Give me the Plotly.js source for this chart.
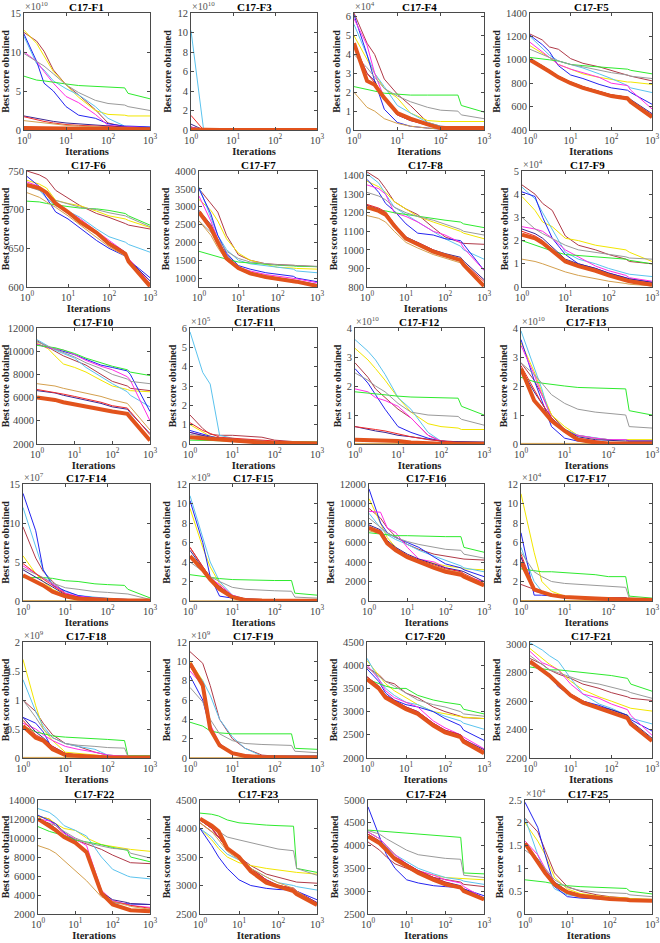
<!DOCTYPE html>
<html><head><meta charset="utf-8">
<script src="https://cdn.plot.ly/plotly-3.0.1.min.js"></script>
<style>html,body{margin:0;padding:0;background:#fff}#chart{width:660px;height:943px}</style>
</head><body><div id="chart"></div>
<script>
// Shared iteration samples (log x axis)
const ITER = [1,2,3,5,10,20,50,100,250,300,1000];
// Series order in every panel
const SERIES = ['brown','yellow','cyan','blue','magenta','green','gray','navy','red','tan','proposed'];
const COLORS = ['#B03A48','#F2E600','#5BC3EE','#2424F0','#FF2EE6','#2EEA2E','#9A9A9A','#3B2690','#F02A2A','#D4A04E','#E2531C'];
const WIDTHS = [1,1,1,1,1,1,1,1,1,1,4];

const TITLES = ['C17-F1','C17-F3','C17-F4','C17-F5','C17-F6','C17-F7','C17-F8','C17-F9','C17-F10','C17-F11','C17-F12','C17-F13',
  'C17-F14','C17-F15','C17-F16','C17-F17','C17-F18','C17-F19','C17-F20','C17-F21','C17-F22','C17-F23','C17-F24','C17-F25'];
const Y_MIN  = [0,0,0,400, 600,750,800,0, 2000,0,0,0, 0,0,0,0, 0,0,2000,2200, 2000,2500,2500,0];
const Y_MAX  = [15,12,6.2,1400, 750,4000,1425,5, 12000,6,4,4, 15,12,12000,12, 2,12,4500,3016, 14000,4500,5000,2.5];
const Y_STEP = [5,2,1,200, 50,500,100,1, 2000,1,1,1, 5,2,2000,2, 0.5,2,500,200, 2000,500,500,0.5];
const Y_EXP  = [10,10,4,0, 0,0,0,4, 0,5,10,10, 7,9,0,4, 9,9,0,0, 0,0,0,4];
const X_TICKS = [1,10,100,1000];
const X_TICKTEXT = ['10<sup>0</sup>','10<sup>1</sup>','10<sup>2</sup>','10<sup>3</sup>'];

// values per panel: [brown, yellow, cyan, blue, magenta, green, gray, navy, red, tan, proposed]
const F1 = [
 [12.5,11.4,10.1,7.7,5.8,4.5,2.6,0.9,0.4,0.4,0.3],
 [12.8,11.1,9.5,7.5,5.8,4.2,2.5,2.0,1.9,1.8,1.8],
 [12.0,8.5,7.7,6.3,5.3,4.5,3.0,1.5,0.5,0.4,0.3],
 [12.3,8.8,6.0,5.0,3.0,1.9,1.5,0.8,0.5,0.5,0.4],
 [10.0,8.8,7.5,6.0,4.3,3.5,2.0,0.6,0.4,0.4,0.3],
 [6.9,6.4,6.3,6.1,5.9,5.7,5.6,5.5,5.4,4.7,4.0],
 [9.8,8.8,8.2,7.2,5.8,4.8,3.8,3.4,3.2,3.0,2.5],
 [1.8,1.5,1.3,1.1,0.9,0.8,0.6,0.5,0.4,0.35,0.3],
 [1.7,1.3,1.1,0.9,0.7,0.6,0.5,0.4,0.3,0.3,0.2],
 [1.2,1.0,0.9,0.75,0.6,0.5,0.4,0.3,0.25,0.25,0.2],
 [0.25,0.22,0.2,0.2,0.18,0.15,0.12,0.1,0.1,0.1,0.1]];
const F3 = [
 [0.3,0,0,0,0,0,0,0,0,0,0],
 [0.2,0,0,0,0,0,0,0,0,0,0],
 [10.2,0,0,0,0,0,0,0,0,0,0],
 [0.3,0,0,0,0,0,0,0,0,0,0],
 [0.3,0,0,0,0,0,0,0,0,0,0],
 [0.1,0,0,0,0,0,0,0,0,0,0],
 [0.2,0,0,0,0,0,0,0,0,0,0],
 [0.6,0,0,0,0,0,0,0,0,0,0],
 [1.5,0,0,0,0,0,0,0,0,0,0],
 [0.05,0,0,0,0,0,0,0,0,0,0],
 [0.05,0,0,0,0,0,0,0,0,0,0]];
const F4 = [
 [6.2,4.6,4.0,2.7,1.9,1.3,0.4,0.2,0.15,0.15,0.15],
 [5.0,3.7,3.0,2.2,1.7,0.9,0.5,0.45,0.45,0.45,0.45],
 [5.6,4.0,3.0,2.3,1.3,0.9,0.4,0.2,0.1,0.1,0.1],
 [6.1,4.0,2.6,1.1,0.4,0.2,0.1,0.05,0.05,0.05,0.05],
 [5.9,4.5,3.0,1.7,0.8,0.6,0.3,0.15,0.1,0.1,0.1],
 [2.3,2.15,2.05,1.95,1.9,1.85,1.85,1.85,1.85,1.3,0.95],
 [4.0,3.3,2.8,2.2,1.8,1.5,1.2,1.05,1.0,0.8,0.6],
 [4.5,3.0,2.6,1.6,0.8,0.5,0.3,0.15,0.1,0.1,0.1],
 [4.6,3.0,2.5,1.7,0.8,0.5,0.25,0.1,0.1,0.1,0.1],
 [2.0,1.2,1.0,0.6,0.35,0.2,0.1,0.05,0.05,0.05,0.05],
 [4.6,2.6,2.4,1.7,0.9,0.6,0.3,0.1,0.1,0.1,0.1]];
const F5 = [
 [1220,1170,1110,1090,1010,970,940,910,870,860,820],
 [1120,1060,1020,960,920,880,850,830,810,810,790],
 [1200,1100,1040,990,960,930,880,840,780,760,720],
 [1210,1130,1070,950,870,840,790,760,740,720,620],
 [1150,1070,1020,960,920,890,850,800,780,740,580],
 [1020,1010,1000,990,960,950,940,930,920,910,880],
 [1090,1050,1020,990,960,940,910,890,870,860,840],
 [1000,950,910,860,810,770,730,700,680,660,540],
 [1000,950,910,860,810,770,730,700,680,650,530],
 [990,940,900,850,800,760,720,690,670,640,510],
 [1000,940,900,850,800,760,720,690,670,640,510]];
const F6 = [
 [750,745,740,725,715,705,695,690,682,680,675],
 [738,733,728,712,708,705,698,692,688,686,677],
 [733,725,715,705,698,690,675,665,658,655,645],
 [743,730,715,697,688,676,660,650,640,635,612],
 [736,730,720,708,698,688,672,660,645,637,605],
 [711,710,708,706,704,702,701,699,695,692,680],
 [730,725,722,712,707,703,700,696,692,690,678],
 [733,728,722,710,695,685,670,658,645,635,608],
 [733,728,722,708,695,683,670,655,642,632,603],
 [722,716,710,703,692,680,665,652,640,630,605],
 [732,728,722,708,697,684,670,656,643,633,601]];
const F7 = [
 [3500,3100,2850,2200,1650,1500,1400,1380,1360,1350,1320],
 [3200,2900,2600,2100,1700,1500,1380,1300,1280,1270,1250],
 [3550,2700,2200,1800,1500,1400,1350,1300,1250,1200,1150],
 [3500,2800,2200,1700,1350,1250,1150,1100,1050,1000,900],
 [3300,2600,2100,1600,1300,1200,1100,1050,1000,980,870],
 [1750,1650,1600,1530,1450,1420,1380,1360,1340,1330,1320],
 [2600,2300,2100,1750,1550,1450,1400,1370,1360,1350,1330],
 [2900,2500,2050,1650,1300,1150,1050,1000,950,930,820],
 [2800,2400,2000,1600,1300,1150,1050,1000,950,920,800],
 [2600,2200,1850,1500,1250,1100,1000,950,900,880,770],
 [2850,2400,2000,1550,1280,1130,1030,980,930,900,780]];
const F8 = [
 [1420,1380,1330,1260,1220,1190,1120,1070,1040,1035,1030],
 [1370,1340,1310,1260,1220,1180,1150,1130,1100,1090,1060],
 [1410,1360,1300,1230,1190,1150,1100,1060,1020,1000,950],
 [1380,1310,1250,1210,1140,1090,1080,1060,1050,1030,890],
 [1350,1330,1300,1200,1180,1150,1100,1080,1040,1010,890],
 [1220,1215,1210,1200,1190,1180,1170,1160,1150,1140,1120],
 [1310,1290,1270,1230,1200,1180,1160,1140,1110,1100,1080],
 [1240,1220,1200,1140,1070,1040,1000,980,960,940,840],
 [1245,1225,1205,1140,1065,1040,1000,975,950,930,830],
 [1185,1170,1150,1100,1040,1010,975,955,930,910,810],
 [1230,1210,1190,1130,1060,1030,990,970,945,920,805]];
const F9 = [
 [4.4,4.0,3.6,3.3,2.2,1.8,1.6,1.4,1.2,1.1,1.0],
 [3.9,3.3,2.8,2.6,2.1,2.0,1.8,1.7,1.6,1.5,1.1],
 [4.3,3.8,3.2,2.5,1.5,1.2,1.0,0.8,0.6,0.55,0.45],
 [4.1,3.9,3.0,2.1,1.4,1.0,0.8,0.6,0.4,0.35,0.2],
 [2.6,2.5,2.4,2.1,1.6,1.3,0.9,0.7,0.5,0.4,0.25],
 [2.0,1.8,1.7,1.55,1.4,1.35,1.3,1.25,1.2,1.15,1.0],
 [3.0,2.5,2.3,2.1,1.8,1.6,1.5,1.4,1.3,1.25,1.2],
 [2.5,2.3,2.1,1.7,1.2,1.0,0.8,0.6,0.4,0.35,0.2],
 [2.4,2.2,2.0,1.6,1.15,0.95,0.75,0.55,0.35,0.3,0.15],
 [1.2,1.1,1.0,0.85,0.65,0.5,0.35,0.25,0.15,0.12,0.05],
 [2.25,2.1,1.9,1.55,1.1,0.9,0.7,0.5,0.3,0.25,0.1]];
const F10 = [
 [10900,10300,10000,9600,9200,8800,8000,7400,7000,6800,6600],
 [10700,10200,9600,8900,8600,8200,7500,7000,6700,6600,6500],
 [11000,10400,10100,9800,9400,8600,7800,7200,6500,6200,5200],
 [10600,10300,10200,10000,9700,9300,8800,8600,8300,8000,4800],
 [10600,10300,10200,10100,9700,9200,8700,8400,7800,7500,4000],
 [10500,10400,10300,10100,9800,9400,9000,8700,8400,8200,7900],
 [10800,10400,10200,9900,9500,9000,8500,8000,7600,7400,7200],
 [6600,6500,6400,6200,6000,5800,5500,5200,5000,4700,2900],
 [6700,6550,6450,6300,6100,5900,5600,5300,5100,4800,2800],
 [7200,7100,7000,6800,6600,6400,6100,5800,5500,5200,3200],
 [6000,5900,5800,5600,5400,5200,5000,4800,4600,4300,2300]];
const F11 = [
 [1.5,0.8,0.5,0.45,0.45,0.4,0.35,0.2,0.15,0.12,0.1],
 [1.0,0.6,0.4,0.3,0.25,0.2,0.15,0.1,0.1,0.1,0.08],
 [5.8,3.7,3.1,0.45,0.3,0.2,0.15,0.1,0.05,0.05,0.05],
 [0.7,0.5,0.4,0.3,0.25,0.2,0.15,0.1,0.08,0.08,0.05],
 [0.6,0.45,0.35,0.3,0.2,0.15,0.12,0.1,0.08,0.08,0.05],
 [0.2,0.2,0.18,0.17,0.16,0.15,0.14,0.13,0.12,0.12,0.1],
 [0.5,0.4,0.35,0.3,0.25,0.2,0.15,0.12,0.1,0.1,0.08],
 [0.6,0.45,0.35,0.3,0.2,0.15,0.1,0.08,0.05,0.05,0.03],
 [1.1,0.7,0.55,0.35,0.3,0.25,0.2,0.15,0.1,0.1,0.08],
 [0.3,0.25,0.2,0.15,0.1,0.08,0.05,0.04,0.03,0.03,0.02],
 [0.35,0.3,0.25,0.2,0.15,0.1,0.07,0.05,0.04,0.03,0.02]];
const F12 = [
 [2.8,2.3,1.9,1.6,1.2,0.9,0.3,0.1,0.08,0.08,0.05],
 [3.3,2.9,2.6,2.2,1.6,1.1,0.7,0.6,0.55,0.5,0.5],
 [3.6,3.2,2.9,2.4,1.6,1.2,0.4,0.1,0.05,0.05,0.05],
 [2.6,2.1,1.7,1.2,0.6,0.4,0.2,0.1,0.05,0.05,0.05],
 [1.9,1.8,1.6,1.5,1.3,0.9,0.3,0.1,0.05,0.05,0.05],
 [1.8,1.75,1.72,1.7,1.65,1.62,1.6,1.6,1.58,1.3,1.0],
 [2.45,2.2,2.0,1.8,1.4,1.1,1.0,0.97,0.95,0.85,0.65],
 [0.6,0.5,0.45,0.4,0.3,0.25,0.15,0.1,0.08,0.08,0.07],
 [0.6,0.55,0.5,0.45,0.35,0.25,0.15,0.1,0.05,0.05,0.05],
 [0.02,0.02,0.02,0.02,0.02,0.02,0.02,0.02,0.02,0.02,0.02],
 [0.15,0.14,0.13,0.12,0.1,0.05,0.02,0.01,0.01,0.01,0.01]];
const F13 = [
 [2.8,2.2,1.7,1.0,0.5,0.3,0.2,0.15,0.15,0.1,0.1],
 [3.5,2.5,1.8,1.0,0.6,0.3,0.2,0.15,0.15,0.15,0.15],
 [3.9,2.6,1.9,0.8,0.5,0.3,0.2,0.15,0.15,0.1,0.1],
 [3.6,2.2,1.5,0.6,0.2,0.1,0.05,0.05,0.05,0.05,0.05],
 [3.4,2.4,1.7,0.9,0.4,0.3,0.2,0.15,0.15,0.1,0.1],
 [2.3,2.15,2.1,2.05,2.0,1.95,1.93,1.92,1.9,1.15,1.0],
 [2.8,2.4,2.1,1.7,1.4,1.2,1.1,1.05,1.0,0.6,0.55],
 [2.6,1.8,1.4,0.9,0.5,0.25,0.15,0.12,0.1,0.1,0.1],
 [2.7,1.9,1.4,0.9,0.45,0.2,0.1,0.05,0.05,0.05,0.05],
 [0.02,0.02,0.02,0.02,0.02,0.02,0.02,0.02,0.02,0.02,0.02],
 [2.6,1.5,1.2,0.8,0.45,0.15,0.05,0.02,0.02,0.02,0.02]];
const F14 = [
 [9.5,5.5,3.8,2.5,1.0,0.5,0.3,0.2,0.1,0.1,0.1],
 [5.8,3.5,2.5,1.5,0.7,0.4,0.3,0.2,0.1,0.1,0.1],
 [12,7,4,2.2,1.2,0.7,0.5,0.3,0.1,0.1,0.1],
 [13.8,9,4.0,2.0,1.3,0.7,0.4,0.3,0.2,0.2,0.1],
 [4.5,3.5,3.0,2.2,1.0,0.6,0.4,0.2,0.1,0.1,0.1],
 [3.0,3.0,3.0,2.9,2.6,2.5,2.2,2.1,2.0,1.5,0.4],
 [4.2,3.5,3.0,2.3,1.7,1.5,1.2,1.1,1.0,0.9,0.2],
 [4.0,3.0,2.5,1.8,0.8,0.5,0.3,0.2,0.1,0.1,0.1],
 [4.8,3.5,2.8,2.0,0.9,0.5,0.3,0.2,0.1,0.1,0.05],
 [0.05,0.05,0.05,0.05,0.05,0.05,0.05,0.05,0.05,0.05,0.05],
 [3.3,2.5,2.0,1.2,0.6,0.3,0.2,0.1,0.05,0.05,0.05]];
const F15 = [
 [5.5,3.5,2.5,1.5,0.5,0.2,0.15,0.1,0.1,0.1,0.1],
 [9.5,5.5,3.5,1.8,0.5,0.2,0.1,0.1,0.1,0.1,0.1],
 [10.8,6.5,4.0,2.0,0.6,0.2,0.1,0.1,0.1,0.1,0.1],
 [10.3,6.0,2.5,0.5,0.3,0.2,0.15,0.1,0.1,0.1,0.1],
 [4.5,3.0,2.3,1.7,0.6,0.2,0.1,0.1,0.1,0.1,0.1],
 [2.7,2.5,2.4,2.3,2.2,2.15,2.12,2.1,2.1,0.8,0.6],
 [4.0,3.0,2.5,2.0,1.4,1.2,1.1,1.05,1.0,0.4,0.3],
 [5.2,3.3,2.3,1.5,0.5,0.2,0.1,0.05,0.05,0.05,0.05],
 [5.5,3.5,2.4,1.5,0.5,0.2,0.1,0.05,0.05,0.05,0.05],
 [0.02,0.02,0.02,0.02,0.02,0.02,0.02,0.02,0.02,0.02,0.02],
 [4.6,3.2,2.2,1.2,0.4,0.1,0.05,0.03,0.03,0.03,0.03]];
const F16 = [
 [9500,8500,7500,6600,5800,5300,4800,4600,4300,4300,4200],
 [10500,8000,6500,5500,4500,4200,3900,3600,3400,3300,3200],
 [9000,7500,6800,6300,5800,5200,4600,4200,3600,3400,3000],
 [11500,8000,7000,6500,6000,5500,4500,3800,3400,3200,2500],
 [9200,9100,7500,7000,5500,4300,4000,3400,3000,2500,2000],
 [7000,6900,6800,6700,6700,6650,6600,6600,6600,5500,5000],
 [8500,7500,7000,6500,6100,5800,5500,5300,5200,4800,4400],
 [7800,7300,6200,5500,4800,4300,3800,3400,3100,3000,2000],
 [7600,7200,6100,5400,4700,4200,3700,3300,3000,2800,1800],
 [7200,6900,6000,5300,4600,4100,3600,3200,2900,2700,1700],
 [7500,7000,5900,5200,4500,4000,3400,3000,2700,2500,1600]];
const F17 = [
 [1.7,1.2,0.8,0.5,0.4,0.4,0.35,0.35,0.3,0.2,0.15],
 [11,5,2.0,1.0,0.5,0.4,0.3,0.3,0.3,0.2,0.15],
 [5.5,2.0,1.0,0.6,0.4,0.3,0.3,0.3,0.3,0.2,0.15],
 [7.0,0.6,0.6,0.5,0.4,0.3,0.3,0.3,0.3,0.2,0.1],
 [4.5,1.0,0.8,0.5,0.4,0.35,0.3,0.3,0.3,0.2,0.15],
 [3.3,3.1,3.0,3.0,2.9,2.8,2.7,2.5,2.5,0.5,0.3],
 [5.0,3.0,2.5,2.0,1.8,1.7,1.6,1.5,1.4,0.3,0.2],
 [4.5,1.2,0.9,0.6,0.4,0.3,0.3,0.3,0.3,0.2,0.1],
 [4.8,1.3,1.0,0.6,0.4,0.3,0.3,0.3,0.3,0.2,0.1],
 [0.05,0.05,0.05,0.05,0.05,0.05,0.05,0.05,0.05,0.05,0.05],
 [4.0,1.2,0.9,0.6,0.4,0.3,0.25,0.2,0.2,0.15,0.1]];
const F18 = [
 [1.0,0.8,0.6,0.4,0.25,0.2,0.1,0.05,0.03,0.03,0.03],
 [1.7,0.9,0.5,0.3,0.1,0.08,0.05,0.03,0.03,0.03,0.03],
 [1.35,0.8,0.55,0.35,0.25,0.2,0.15,0.05,0.03,0.03,0.03],
 [0.7,0.6,0.45,0.15,0.05,0.05,0.03,0.03,0.03,0.03,0.03],
 [0.6,0.5,0.4,0.3,0.2,0.15,0.1,0.05,0.03,0.03,0.03],
 [0.55,0.45,0.42,0.38,0.36,0.35,0.33,0.32,0.3,0.04,0.04],
 [1.0,0.7,0.5,0.35,0.25,0.22,0.2,0.18,0.17,0.03,0.03],
 [0.7,0.45,0.35,0.2,0.08,0.05,0.03,0.02,0.02,0.02,0.02],
 [0.65,0.4,0.33,0.2,0.08,0.05,0.03,0.02,0.02,0.02,0.02],
 [0.01,0.01,0.01,0.01,0.01,0.01,0.01,0.01,0.01,0.01,0.01],
 [0.55,0.35,0.3,0.15,0.05,0.03,0.02,0.01,0.01,0.01,0.01]];
const F19 = [
 [11,9.8,7.5,4.0,2.0,1.0,0.3,0.2,0.2,0.2,0.2],
 [10,8,3,1.5,0.5,0.3,0.2,0.2,0.2,0.2,0.2],
 [9.5,8.0,6.5,4.0,2.2,1.0,0.2,0.1,0.1,0.1,0.1],
 [8.5,6.0,3.0,1.5,0.5,0.3,0.2,0.2,0.2,0.2,0.2],
 [9.0,7.5,3.5,1.5,0.5,0.3,0.2,0.1,0.1,0.1,0.1],
 [3.7,3.3,2.8,2.6,2.5,2.5,2.5,2.5,2.5,1.0,0.9],
 [7.3,5.8,4.0,2.5,1.8,1.5,1.4,1.35,1.3,0.7,0.55],
 [9.5,7.5,3.0,1.3,0.6,0.3,0.1,0.1,0.1,0.1,0.1],
 [9.8,7.8,3.0,1.2,0.5,0.2,0.1,0.05,0.05,0.05,0.05],
 [0.03,0.03,0.03,0.03,0.03,0.03,0.03,0.03,0.03,0.03,0.03],
 [9.8,7.5,3.0,1.3,0.5,0.2,0.1,0.05,0.05,0.05,0.05]];
const F20 = [
 [3950,3800,3650,3600,3400,3300,3100,3000,2900,2870,2850],
 [4100,3800,3600,3450,3300,3150,3000,2950,2900,2880,2850],
 [4150,3700,3500,3350,3200,3150,3000,2900,2800,2750,2620],
 [3920,3650,3400,3250,3150,3100,3000,2850,2700,2600,2380],
 [4000,3700,3450,3300,3200,3100,2800,2650,2500,2450,2200],
 [3700,3600,3550,3500,3500,3350,3250,3200,3150,3050,2950],
 [3950,3750,3650,3550,3400,3250,3150,3100,3000,2950,2900],
 [3750,3550,3350,3250,3100,3000,2750,2600,2500,2400,2180],
 [3750,3550,3350,3250,3100,3000,2750,2600,2500,2400,2150],
 [3700,3500,3300,3200,3050,2950,2700,2550,2450,2350,2100],
 [3700,3500,3300,3200,3050,2950,2700,2550,2450,2350,2100]];
const F21 = [
 [2900,2860,2820,2790,2760,2720,2690,2660,2630,2620,2605],
 [2970,2900,2860,2820,2740,2680,2630,2600,2560,2550,2530],
 [3010,2960,2920,2880,2760,2650,2580,2550,2500,2480,2440],
 [2880,2820,2780,2700,2640,2600,2570,2540,2500,2470,2390],
 [2950,2870,2850,2820,2720,2650,2620,2580,2540,2500,2360],
 [2840,2830,2820,2820,2810,2800,2790,2780,2760,2720,2670],
 [2920,2860,2820,2800,2770,2740,2720,2700,2670,2660,2620],
 [2870,2820,2790,2730,2650,2600,2560,2540,2500,2460,2340],
 [2870,2820,2790,2730,2650,2600,2560,2530,2490,2450,2330],
 [2860,2810,2780,2720,2640,2590,2550,2520,2480,2440,2320],
 [2880,2820,2780,2720,2640,2590,2550,2520,2480,2440,2320]];
const F22 = [
 [12300,12000,11300,10500,9800,9400,8800,8200,7600,7400,7300],
 [12300,12000,11500,11000,10800,10000,9300,9100,8900,8800,8600],
 [13100,12700,12200,11300,10800,10200,8000,6700,6000,5900,5700],
 [12400,11800,11500,10600,9700,8600,4000,3200,3100,3050,3000],
 [12000,11800,11300,10500,9900,9200,4500,3400,3000,2900,2700],
 [11200,10700,10500,10300,9800,9600,9300,9000,8700,8000,7500],
 [12000,11600,11300,10700,10000,9500,9200,8900,8800,8400,7900],
 [12000,11500,11000,10200,9600,8600,4300,3500,3200,3100,3000],
 [12000,11500,11000,10000,9500,8300,4200,3300,3000,2900,2600],
 [9200,8800,8400,7600,6500,5500,3800,3300,2900,2800,2500],
 [12000,11300,10800,10100,9500,8500,4200,3000,2500,2400,2300]];
const F23 = [
 [4100,3950,3850,3650,3500,3350,3200,3150,3080,3060,3040],
 [4000,3800,3650,3500,3400,3350,3300,3270,3240,3230,3200],
 [4000,3850,3700,3550,3450,3300,3150,3050,3000,2980,2920],
 [4000,3700,3500,3300,3100,3000,2950,2930,2920,2900,2750],
 [4150,4000,3850,3650,3500,3300,3100,3000,2950,2900,2700],
 [4270,4250,4220,4150,4100,4080,4060,4050,4040,3300,3230],
 [4150,4050,3950,3850,3800,3750,3680,3640,3610,3300,3180],
 [4150,4000,3850,3650,3500,3300,3100,3000,2950,2900,2700],
 [4150,4000,3850,3650,3500,3300,3100,3000,2950,2900,2680],
 [4100,3950,3800,3600,3450,3300,3150,3050,2950,2900,2680],
 [4170,4050,3950,3650,3500,3250,3050,2980,2900,2850,2660]];
const F24 = [
 [4080,3900,3750,3600,3500,3400,3300,3250,3200,3150,3100],
 [4300,4150,4000,3800,3550,3450,3350,3300,3280,3270,3250],
 [4300,4150,3980,3800,3650,3500,3380,3300,3250,3220,3150],
 [4850,4200,3800,3500,3250,3180,3120,3100,3080,3050,2900],
 [4300,4150,4000,3800,3600,3450,3350,3250,3180,3100,2850],
 [4340,4320,4300,4280,4260,4240,4220,4200,4180,3400,3380],
 [4330,4250,4150,4050,3900,3800,3750,3720,3700,3350,3300],
 [4250,4100,3950,3750,3600,3450,3300,3200,3120,3050,2850],
 [4250,4100,3950,3750,3600,3450,3300,3200,3100,3020,2830],
 [4200,4050,3900,3700,3550,3400,3250,3150,3080,3000,2820],
 [4200,4050,3900,3700,3550,3400,3250,3150,3080,3000,2820]];
const F25 = [
 [2.1,1.8,1.4,0.9,0.6,0.5,0.42,0.38,0.35,0.34,0.3],
 [2.0,1.6,1.3,0.8,0.55,0.45,0.4,0.37,0.35,0.34,0.32],
 [2.1,1.3,0.9,0.55,0.42,0.38,0.34,0.32,0.3,0.3,0.28],
 [2.45,1.9,1.3,0.6,0.38,0.35,0.33,0.32,0.31,0.3,0.28],
 [1.6,1.3,1.0,0.7,0.5,0.42,0.38,0.35,0.32,0.31,0.3],
 [0.75,0.72,0.7,0.66,0.62,0.6,0.58,0.57,0.56,0.5,0.44],
 [1.4,1.2,1.0,0.75,0.58,0.52,0.48,0.46,0.45,0.42,0.38],
 [1.55,1.2,0.95,0.7,0.5,0.42,0.37,0.34,0.32,0.31,0.3],
 [1.5,1.15,0.9,0.65,0.48,0.4,0.36,0.33,0.31,0.3,0.29],
 [1.5,1.15,0.9,0.65,0.48,0.4,0.36,0.33,0.31,0.3,0.29],
 [1.55,1.15,0.9,0.65,0.48,0.4,0.35,0.33,0.31,0.3,0.29]];

const PANELS = [F1,F3,F4,F5,F6,F7,F8,F9,F10,F11,F12,F13,F14,F15,F16,F17,F18,F19,F20,F21,F22,F23,F24,F25];

// ---- layout geometry (pixels) ----
const W = 660, H = 943;
const PLOT_LEFT = [24,191,354,530, 27,199,367,522, 37,190,355,521, 23,190,369,521, 23,190,367,530, 38,200,368,525];
const COL_RIGHT = [150,317,484,652];
const ROW_TOP = [13,171,328,484,642,800];
const ROW_BOTTOM = [130,287,444,601,758,914];

const FONT = 'Liberation Serif, Times New Roman, serif';
const AXIS_COLOR = '#4a4a4a';
const traces = [];
const layout = {
  width: W, height: H, margin: {l:0,r:0,t:0,b:0},
  paper_bgcolor: '#fff', plot_bgcolor: '#fff', showlegend: false,
  font: {family: FONT, size: 10, color: '#3a3a3a'},
  annotations: []
};

PANELS.forEach((panel, p) => {
  const n = p + 1;
  const sfx = n === 1 ? '' : String(n);
  const row = Math.floor(p / 4), col = p % 4;
  const L = PLOT_LEFT[p], R = COL_RIGHT[col], T = ROW_TOP[row], B = ROW_BOTTOM[row];
  panel.forEach((vals, s) => {
    traces.push({
      x: ITER, y: vals, xaxis: 'x' + sfx, yaxis: 'y' + sfx, type: 'scatter', mode: 'lines',
      line: {color: COLORS[s], width: WIDTHS[s]}, hoverinfo: 'skip', name: SERIES[s]
    });
  });
  layout['xaxis' + sfx] = {
    domain: [L / W, R / W], anchor: 'y' + sfx, type: 'log', range: [0, 3],
    tickvals: X_TICKS, ticktext: X_TICKTEXT, ticks: 'inside', ticklen: 3, tickcolor: AXIS_COLOR,
    showline: true, linecolor: AXIS_COLOR, linewidth: 1, mirror: 'ticks',
    showgrid: false, zeroline: false, automargin: false,
    tickfont: {family: FONT, size: 10.5, color: '#444'},
    title: {text: '<b>Iterations</b>', font: {family: FONT, size: 10.5, color: '#222'}, standoff: 1}
  };
  layout['yaxis' + sfx] = {
    domain: [1 - B / H, 1 - T / H], anchor: 'x' + sfx,
    range: [Y_MIN[p], Y_MAX[p]], dtick: Y_STEP[p], tick0: 0,
    tickformat: Y_STEP[p] >= 1 ? 'd' : '',
    ticks: 'inside', ticklen: 3, tickcolor: AXIS_COLOR,
    showline: true, linecolor: AXIS_COLOR, linewidth: 1, mirror: 'ticks',
    showgrid: false, zeroline: false, automargin: false,
    tickfont: {family: FONT, size: 10.5, color: '#444'},
    title: {text: '<b>Best score obtained</b>', font: {family: FONT, size: 10, color: '#222'}, standoff: 3}
  };
  layout.annotations.push({
    text: '<b>' + TITLES[p] + '</b>', xref: 'paper', yref: 'paper',
    x: (L + R) / 2 / W, y: 1 - (T - 6.5) / H, xanchor: 'center', yanchor: 'middle',
    showarrow: false, borderpad: 0, font: {family: FONT, size: 11, color: '#000'}
  });
  if (Y_EXP[p]) {
    layout.annotations.push({
      text: '\u00d710<sup>' + Y_EXP[p] + '</sup>', xref: 'paper', yref: 'paper',
      x: L / W, y: 1 - T / H, xanchor: 'left', yanchor: 'bottom',
      showarrow: false, borderpad: 0, font: {family: FONT, size: 10, color: '#555'}
    });
  }
});

Plotly.newPlot('chart', traces, layout, {staticPlot: true, displayModeBar: false});
</script>
</body></html>
